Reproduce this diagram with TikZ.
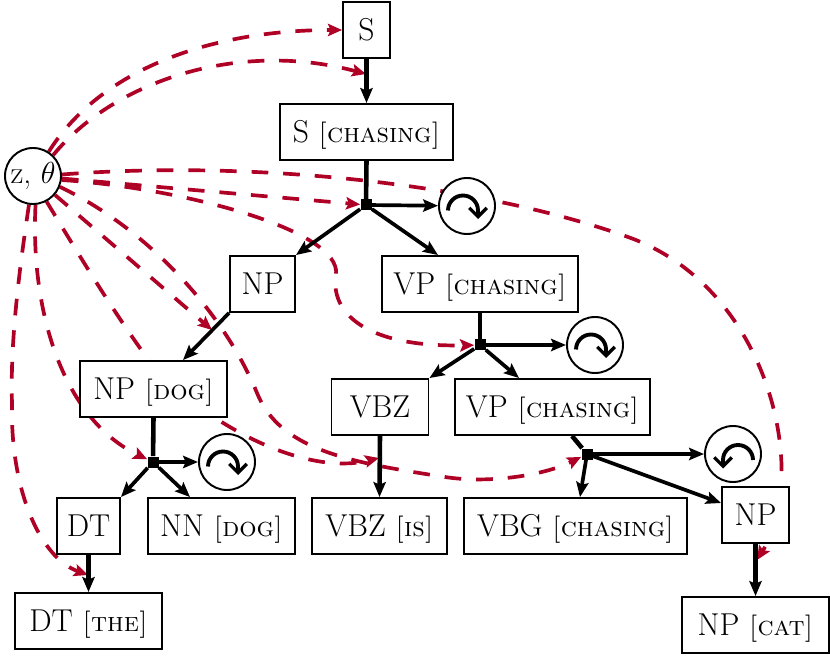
\documentclass[tikz,border=0pt]{standalone}
\usetikzlibrary{arrows.meta}
\definecolor{latentred}{RGB}{175,0,38}
\pgfdeclarelayer{background}
\pgfsetlayers{background,main}
\newcommand{\head}[1]{{\fontsize{15.5}{18}\selectfont\scshape [#1]}}
\newcommand{\turncw}[1]{\draw [turn] ([shift={(-0.38,-0.09)}]#1.center) arc (180:0:0.3) -- ++(0,-0.17);}
\newcommand{\turnccw}[1]{\draw [turn] ([shift={(0.4,-0.12)}]#1.center) arc (0:180:0.3) -- ++(0,-0.17);}
\tikzset{
   box/.style={draw, line width=1.1pt, fill=white, minimum height=1.12cm, inner sep=0pt, text height=0.42cm, text depth=0pt, font=\fontsize{18}{20}\selectfont},
   latent/.style={draw=latentred, line width=2.1pt, dash pattern=on 9.5pt off 8.5pt, -{Stealth[length=8pt,width=7pt,inset=1.5pt,fill=latentred]}},
   split/.style={fill=black, inner sep=0pt, minimum size=0.22cm},
   loopbox/.style={draw, circle, line width=1.1pt, fill=white, inner sep=0pt, minimum size=1.12cm},
   edge/.style={line width=2.1pt, -{Stealth[length=8.5pt,width=7pt,inset=1.5pt]}},
   stem/.style={line width=2.6pt},
   turn/.style={line width=2.2pt, -{Straight Barb[length=5pt,width=10pt,line width=1.9pt]}}
}
\begin{document}
\begin{tikzpicture}
   \useasboundingbox (0,0) rectangle (16.6,13.1);

   \node (z) at (0.66,9.58) [draw, circle, line width=1.1pt, fill=white, inner sep=0pt, minimum size=1.12cm, font=\fontsize{18}{20}\selectfont] {z, $\theta$};

   \node (S) at (7.33,12.5) [box, minimum width=0.94cm] {S};
   \node (Schasing) at (7.33,10.46) [box, minimum width=3.46cm] {S \head{chasing}};
   \node (SplitS) at (7.32,9.0) [split] {};
   \node (LoopS) at (9.34,8.98) [loopbox] {};

   \node (NP) at (5.25,7.42) [box, minimum width=1.3cm] {NP};
   \node (VPchasing) at (9.6,7.42) [box, minimum width=3.92cm] {VP \head{chasing}};
   \node (SplitVP) at (9.6,6.2) [split] {};
   \node (LoopVP) at (11.9,6.2) [loopbox] {};

   \node (NPdog) at (3.07,5.32) [box, minimum width=2.94cm] {NP \head{dog}};
   \node (SplitNP) at (3.06,3.86) [split] {};
   \node (LoopNP) at (4.54,3.86) [loopbox] {};
   \node (DT) at (1.77,2.58) [box, minimum width=1.26cm] {DT};
   \node (NNdog) at (4.43,2.58) [box, minimum width=2.94cm] {NN \head{dog}};
   \node (DTthe) at (1.77,0.68) [box, minimum width=2.94cm] {DT \head{the}};

   \node (VBZ) at (7.6,4.96) [box, minimum width=1.94cm] {VBZ};
   \node (VBZis) at (7.59,2.58) [box, minimum width=2.7cm] {VBZ \head{is}};

   \node (VPchasingb) at (11.05,4.96) [box, minimum width=3.9cm] {VP \head{chasing}};
   \node (SplitVPb) at (11.74,4.02) [split] {};
   \node (LoopVPb) at (14.66,4.02) [loopbox] {};
   \node (VBGchasing) at (11.51,2.58) [box, minimum width=4.46cm] {VBG \head{chasing}};
   \node (NPb) at (15.11,2.8) [box, minimum width=1.34cm] {NP};
   \node (NPcat) at (15.11,0.6) [box, minimum width=2.94cm] {NP \head{cat}};

   \coordinate (MidS) at (7.32,11.62);
   \coordinate (MidNP) at (4.24,6.5);
   \coordinate (MidVBZ) at (7.58,3.94);
   \coordinate (MidDT) at (1.76,1.6);
   \coordinate (MidNPb) at (15.14,1.9);

   \draw [edge, stem] (S.south) -- (Schasing.north);
   \draw [stem] (Schasing.south) -- (SplitS);
   \draw [edge] (SplitS) -- (LoopS);
   \draw [edge] (SplitS) -- (NP.north east);
   \draw [edge] (SplitS) -- ([xshift=-0.84cm]VPchasing.north);

   \draw [edge] (NP.south west) -- ([xshift=0.59cm]NPdog.north);
   \draw [stem] (VPchasing.south) -- (SplitVP);
   \draw [edge] (SplitVP) -- (LoopVP);
   \draw [edge] (SplitVP) -- (VBZ.north east);
   \draw [edge] (SplitVP) -- ([xshift=-0.67cm]VPchasingb.north);

   \draw [stem] (NPdog.south) -- (SplitNP);
   \draw [edge] (SplitNP) -- (LoopNP);
   \draw [edge] (SplitNP) -- (DT.north east);
   \draw [edge] (SplitNP) -- ([xshift=-0.63cm]NNdog.north);
   \draw [edge, stem] (DT.south) -- (DTthe.north);

   \draw [edge, stem] (VBZ.south) -- (VBZis.north);

   \draw [stem] ([xshift=0.39cm]VPchasingb.south) -- (SplitVPb);
   \draw [edge] (SplitVPb) -- (LoopVPb);
   \draw [edge] (SplitVPb) -- ([xshift=0.09cm]VBGchasing.north);
   \draw [edge] (SplitVPb) -- ([yshift=0.24cm]NPb.west);
   \draw [edge, stem] (NPb.south) -- (NPcat.north);

   \turncw{LoopS}
   \turncw{LoopVP}
   \turncw{LoopNP}
   \turnccw{LoopVPb}

   \begin{pgfonlayer}{background}
   \draw [latent] (z.57) .. controls (2.0,11.7) and (4.2,12.5) .. (S.west);
   \draw [latent] (z.46) .. controls (2.3,11.5) and (4.8,12.3) .. (MidS);
   \draw [latent] (z) -- (SplitS);
   \draw [latent] (z.3) .. controls (5.0,9.9) and (9.5,9.45) .. (12.56,8.36) .. controls (15.4,7.35) and (16.2,3.6) .. (MidNPb);
   \draw [latent] (z.-8) .. controls (3.6,9.35) and (6.85,8.5) .. (6.72,7.6) .. controls (6.6,6.85) and (7.3,6.15) .. (SplitVP);
   \draw [latent] (z.-22) .. controls (3.0,8.5) and (4.5,6.8) .. (5.14,5.24) .. controls (5.6,4.1) and (7.0,3.85) .. (8.9,3.56) .. controls (9.8,3.42) and (10.9,3.6) .. (SplitVPb);
   \draw [latent] (z) -- (MidNP);
   \draw [latent] (z.-62) .. controls (2.0,7.3) and (2.4,6.7) .. (2.94,5.94) .. controls (3.9,4.75) and (6.0,3.55) .. (MidVBZ);
   \draw [latent] (z.-85) .. controls (0.6,6.8) and (1.3,4.7) .. (SplitNP);
   \draw [latent] (z.-98) .. controls (0.4,7.8) and (0.2,6.3) .. (0.24,5.04) .. controls (0.2,3.3) and (0.8,1.95) .. (MidDT);
   \end{pgfonlayer}
\end{tikzpicture}
\end{document}
